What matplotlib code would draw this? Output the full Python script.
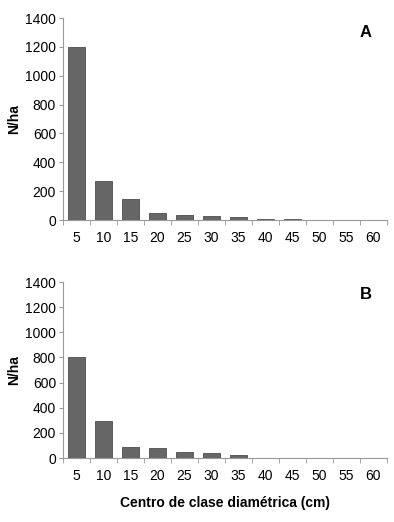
import numpy as np
import matplotlib.pyplot as plt

plt.rcParams['font.family'] = ['Liberation Sans', 'DejaVu Sans']

clases = ['5', '10', '15', '20', '25', '30', '35', '40', '45', '50', '55', '60']
n_ha_a = [1200, 272, 147, 50, 37, 25, 18, 8, 7, 0, 0, 0]
n_ha_b = [800, 298, 84, 79, 50, 37, 20, 0, 3, 0, 3, 0]
paneles = ['A', 'B']

fig = plt.figure(figsize=(3.94, 5.22), dpi=100)
ax_a = fig.add_axes([0.16, 0.5785, 0.822, 0.387])
ax_b = fig.add_axes([0.16, 0.1226, 0.822, 0.337])

x = np.arange(len(clases))
for ax, vals, letra in zip([ax_a, ax_b], [n_ha_a, n_ha_b], paneles):
    ax.bar(x, vals, width=0.6, color='#666666', edgecolor='#4d4d4d', linewidth=0.6)
    ax.set_xlim(-0.5, len(clases) - 0.5)
    ax.set_ylim(0, 1400)
    ax.set_yticks(np.arange(0, 1401, 200))
    ax.set_xticks(x)
    ax.set_xticklabels(clases)
    ax.set_xticks(np.arange(-0.5, len(clases), 1), minor=True)
    ax.tick_params(axis='x', which='major', length=0, pad=8, labelsize=10)
    ax.tick_params(axis='x', which='minor', length=3.5, color='#999999', direction='out')
    ax.tick_params(axis='y', length=3, color='#999999', labelsize=10, pad=2)
    for s in ['top', 'right']:
        ax.spines[s].set_visible(False)
    for s in ['left', 'bottom']:
        ax.spines[s].set_color('#999999')
        ax.spines[s].set_linewidth(0.8)
    ax.set_ylabel('N/ha', fontweight='bold', fontsize=10, labelpad=3)
    ax.text(0.935, 0.93, letra, transform=ax.transAxes, fontsize=12,
            fontweight='bold', ha='center', va='center')

ax_b.set_xlabel('Centro de clase diamétrica (cm)', fontweight='bold', fontsize=10, labelpad=9)

fig.savefig('out.png', dpi=100)
